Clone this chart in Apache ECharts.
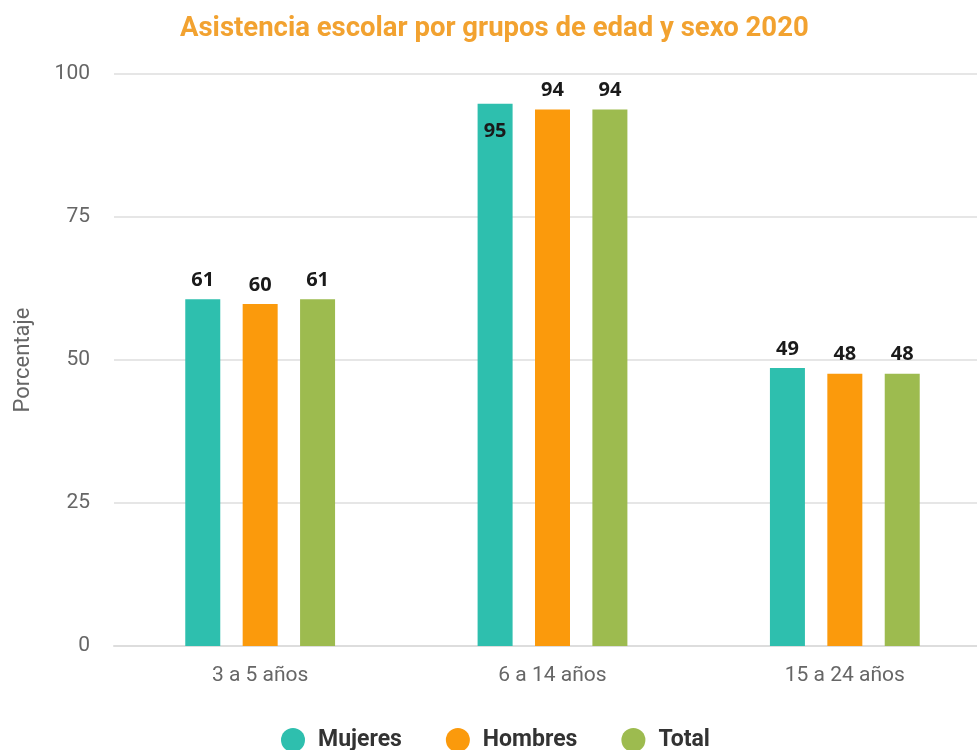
<!DOCTYPE html>
<html><head><meta charset="utf-8">
<script src="https://cdn.jsdelivr.net/npm/echarts@6/dist/echarts.min.js"></script>
<style>html,body{margin:0;padding:0;background:#fff}#c{width:977px;height:750px}</style>
</head><body><div id="c"></div>
<script>
const categories = ['3 a 5 años', '6 a 14 años', '15 a 24 años'];
const mujeres = [60.6, 94.8, 48.6];
const hombres = [59.8, 93.8, 47.6];
const total = [60.6, 93.8, 47.6];
const yTicks = [0, 25, 50, 75, 100];

const colors = ['#2EBFAE', '#FB9A0C', '#9DBB4F'];
const chart = echarts.init(document.getElementById('c'));
const lbl = {show: true, position: 'top', distance: 9, color: '#1a1a1a', fontWeight: 'bold', fontSize: 20,
  fontFamily: 'Open Sans', formatter: p => Math.round(p.value)};
function mk(name, arr, i) {
  return {
    name, type: 'bar', data: arr.map((v, j) => (i === 0 && j === 1) ? {value: v, label: {position: 'insideTop', distance: 18}} : v),
    barWidth: 35, barGap: '64%', itemStyle: {color: colors[i]}, label: lbl
  };
}
chart.setOption({
  animation: false,
  title: {text: 'Asistencia escolar por grupos de edad y sexo 2020', left: 175, top: 10,
    textStyle: {color: '#F2A230', fontSize: 27.5, fontWeight: 'bold', fontFamily: 'Roboto'}},
  legend: {bottom: -7, left: 276, itemWidth: 24, itemHeight: 24, icon: 'circle', itemGap: 44,
    textStyle: {fontSize: 23, fontWeight: 'bold', color: '#333', fontFamily: 'Roboto', padding: [0, 0, 0, 8]}},
  grid: {left: 114, width: 877, top: 74, bottom: 104, outerBoundsMode: 'none', containLabel: false},
  xAxis: {type: 'category', data: categories,
    axisLine: {lineStyle: {color: '#ddd', width: 2}}, axisTick: {show: false},
    axisLabel: {color: '#666', fontSize: 21, fontFamily: 'Roboto', margin: 19}},
  yAxis: {type: 'value', min: 0, max: 100, interval: 25, name: 'Porcentaje', nameLocation: 'middle', nameGap: 80,
    nameTextStyle: {color: '#666', fontSize: 22, fontFamily: 'Roboto'},
    axisLabel: {color: '#666', fontSize: 21, fontFamily: 'Roboto', margin: 24,
      formatter: v => yTicks.includes(v) ? String(v) : ''},
    splitLine: {lineStyle: {color: '#e6e6e6', width: 2}}, axisLine: {show: false}},
  series: [mk('Mujeres', mujeres, 0), mk('Hombres', hombres, 1), mk('Total', total, 2)]
});
</script></body></html>
